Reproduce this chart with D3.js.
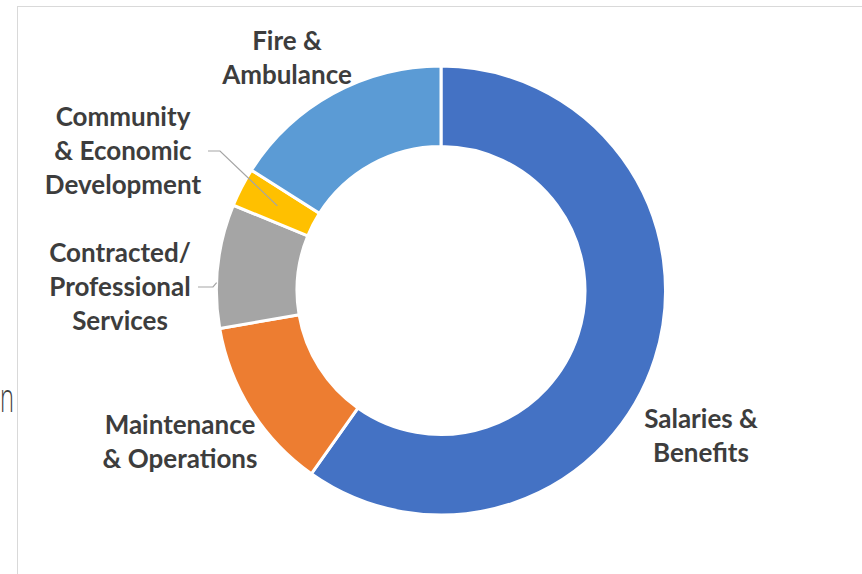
<!DOCTYPE html>
<html>
<head>
<meta charset="utf-8">
<script src="https://cdn.jsdelivr.net/npm/d3@7"></script>
<style>
  body { margin: 0; background: #fff; }
  svg { display: block; }
</style>
</head>
<body>
<div id="chart"></div>
<script>
// data: share of budget by category (%), clockwise from 12 o'clock
const categories = [
  "Salaries & Benefits",
  "Maintenance & Operations",
  "Contracted/ Professional Services",
  "Community & Economic Development",
  "Fire & Ambulance"
];
const values = [59.8, 12.5, 8.9, 2.8, 16.0];
const labelLines = [
  ["Salaries &", "Benefits"],
  ["Maintenance", "& Operations"],
  ["Contracted/", "Professional", "Services"],
  ["Community", "& Economic", "Development"],
  ["Fire &", "Ambulance"]
];
const colors = ["#4472C4", "#ED7D31", "#A5A5A5", "#FFC000", "#5B9BD5"];

(function () {
  const W = 862, H = 574;
  const cx = 441, cy = 290.5;
  const outerR = 224.5, innerR = 144;

  const svg = d3.select("#chart").append("svg")
    .attr("width", W)
    .attr("height", H);

  // frame of the chart area
  svg.append("rect")
    .attr("x", 17.5).attr("y", 6.5)
    .attr("width", W).attr("height", H)
    .attr("fill", "none")
    .attr("stroke", "#d9d9d9")
    .attr("stroke-width", 1);

  // stray letter at the left edge
  svg.append("text")
    .attr("x", 0).attr("y", 412)
    .attr("textLength", 14)
    .attr("lengthAdjust", "spacingAndGlyphs")
    .style("font-family", "'Open Sans', sans-serif")
    .style("font-weight", 300)
    .style("font-size", "40px")
    .attr("fill", "#404040")
    .text("n");

  const g = svg.append("g")
    .attr("transform", `translate(${cx},${cy})`);

  const pie = d3.pie().sort(null).value(d => d);
  const arcs = pie(values);

  const arc = d3.arc().innerRadius(innerR).outerRadius(outerR);

  g.selectAll("path.slice")
    .data(arcs)
    .join("path")
    .attr("class", "slice")
    .attr("d", arc)
    .attr("fill", (d, i) => colors[i])
    .attr("stroke", "#fff")
    .attr("stroke-width", 3);

  // label layout (screen position of the first line's baseline, centred)
  const layout = [
    { x: 701, y: 428, leader: null },
    { x: 180, y: 434, leader: null },
    { x: 120, y: 262, leader: { from: [198, 287], elbow: [213, 287], angle: 272, r: outerR } },
    { x: 123, y: 126, leader: { from: [208, 151], elbow: [220, 151], angle: null } },
    { x: 287, y: 50, leader: null }
  ];
  const lineH = 34;

  // leader lines
  arcs.forEach((d, i) => {
    const L = layout[i].leader;
    if (!L) return;
    let end;
    if (L.angle == null) {
      const c = arc.centroid(d);
      end = [cx + c[0], cy + c[1]];
    } else {
      const a = L.angle * Math.PI / 180;
      end = [cx + L.r * Math.sin(a), cy - L.r * Math.cos(a)];
    }
    svg.append("polyline")
      .attr("points", [L.from, L.elbow, end].map(p => p.join(",")).join(" "))
      .attr("fill", "none")
      .attr("stroke", "#A5A5A5")
      .attr("stroke-width", 1.2);
  });

  // labels
  const labels = svg.selectAll("text.lbl")
    .data(labelLines)
    .join("text")
    .attr("class", "lbl")
    .attr("text-anchor", "middle")
    .attr("fill", "#3d3d3d")
    .style("font-family", "Lato, sans-serif")
    .style("font-weight", "bold")
    .style("font-size", "26px");

  labels.each(function (lines, i) {
    const t = d3.select(this);
    lines.forEach((s, k) => {
      t.append("tspan")
        .attr("x", layout[i].x)
        .attr("y", layout[i].y + k * lineH)
        .text(s);
    });
  });
})();
</script>
</body>
</html>
